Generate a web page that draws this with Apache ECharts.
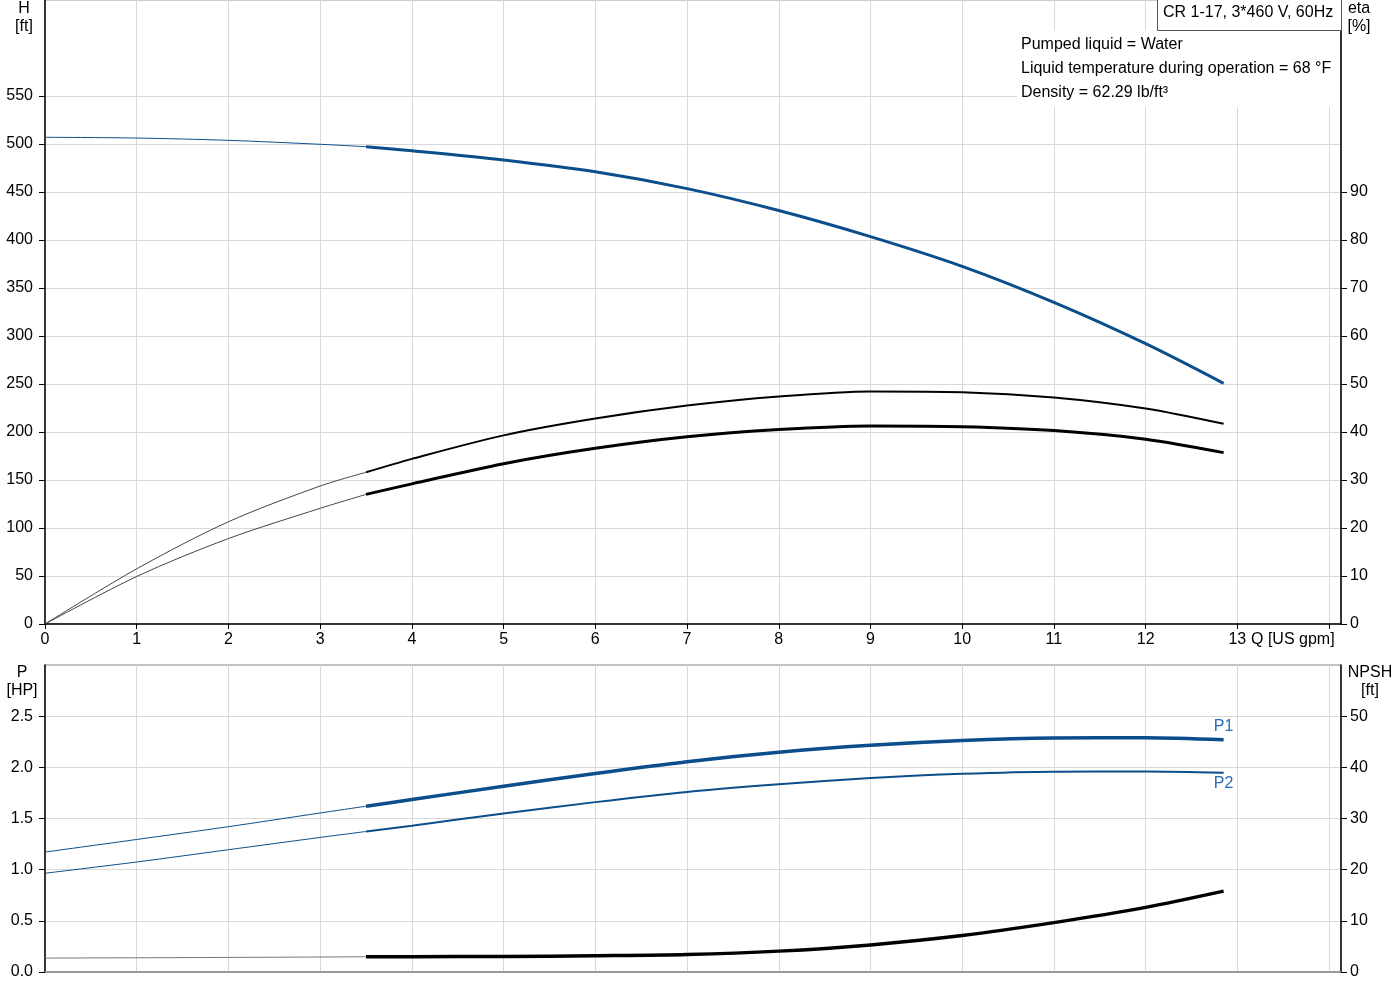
<!DOCTYPE html>
<html>
<head>
<meta charset="utf-8">
<script src="https://cdn.jsdelivr.net/npm/echarts@6.0.0/dist/echarts.min.js"></script>
<style>
  html, body { margin: 0; padding: 0; background: #fff; }
  #chart { width: 1400px; height: 1000px; }
</style>
</head>
<body>
<div id="chart"></div>
<script>
// flow points: thin part (outside operating range) and thick part
const qThin = [0, 1, 2, 3, 3.5];
const qThick = [3.5, 4, 5, 6, 7, 8, 9, 10, 11, 12, 12.85];

// head [ft]
const headThin = [507, 506.2, 503.8, 499.7, 497.2];
const headThick = [497.2, 493, 483.3, 471, 453.5, 430.7, 403.5, 372.5, 335, 292, 250.7];

// efficiency [%]
const etaUpperThin = [0, 11.5, 21.3, 28.75, 31.6];
const etaUpperThick = [31.6, 34.4, 39.3, 42.8, 45.5, 47.4, 48.45, 48.3, 47.2, 44.9, 41.7];
const etaLowerThin = [0, 9.9, 17.8, 24.1, 27.0];
const etaLowerThick = [27.0, 29.2, 33.4, 36.6, 39.0, 40.5, 41.25, 41.1, 40.3, 38.5, 35.7];

// power [HP]
const p1Thin = [1.172, 1.295, 1.42, 1.554, 1.62];
const p1Thick = [1.62, 1.685, 1.815, 1.94, 2.055, 2.147, 2.215, 2.262, 2.287, 2.29, 2.27];
const p2Thin = [0.965, 1.075, 1.195, 1.315, 1.373];
const p2Thick = [1.373, 1.43, 1.548, 1.66, 1.76, 1.835, 1.895, 1.937, 1.958, 1.959, 1.946];

// NPSH [ft]
const npshThin = [2.72, 2.78, 2.85, 2.93, 2.98];
const npshThick = [2.98, 2.99, 3.04, 3.17, 3.4, 4.08, 5.3, 7.12, 9.65, 12.63, 15.8];

// tick labels
const qTicks = [0, 1, 2, 3, 4, 5, 6, 7, 8, 9, 10, 11, 12, 13, 14];
const qLabels = [0, 1, 2, 3, 4, 5, 6, 7, 8, 9, 10, 11, 12, 13];
const hLabels = [0, 50, 100, 150, 200, 250, 300, 350, 400, 450, 500, 550];
const etaLabels = [0, 10, 20, 30, 40, 50, 60, 70, 80, 90];
const pLabels = [0, 0.5, 1, 1.5, 2, 2.5];
const npshLabels = [0, 10, 20, 30, 40, 50];

const FONT = 'Liberation Sans, Arial, sans-serif';
const FS = 16;
const BLUE = '#0b4e8b';
const GRID_LINE = '#d9d9d9';

const pairs = (qs, vs) => qs.map((q, i) => [q, vs[i]]);

function line(qs, vs, color, width, xi, yi, endLabel) {
  const data = pairs(qs, vs);
  const s = {
    type: 'line', xAxisIndex: xi, yAxisIndex: yi, data: data,
    smooth: 0.3, showSymbol: false, symbol: 'none',
    lineStyle: { color: color, width: width },
    z: 3
  };
  if (endLabel) {
    s.markPoint = {
      symbol: 'circle', symbolSize: 0, silent: true,
      data: [{
        coord: data[data.length - 1],
        label: {
          show: true, formatter: endLabel.text, position: endLabel.pos, distance: endLabel.dist,
          color: '#2a6db5', fontSize: FS, fontFamily: FONT
        }
      }]
    };
  }
  return s;
}

function valueAxis(opts) {
  return Object.assign({
    type: 'value',
    axisLine: { show: true, onZero: false, lineStyle: { color: '#000', width: 1.5 } },
    axisTick: { show: true, length: 6, lineStyle: { color: '#000' } },
    axisLabel: { color: '#000', fontSize: FS, fontFamily: FONT },
    splitLine: { show: false }
  }, opts);
}

const chart = echarts.init(document.getElementById('chart'));

chart.setOption({
  animation: false,
  backgroundColor: '#fff',
  grid: [
    { left: 45, right: 59, top: 0, height: 624, show: true, borderColor: '#999', borderWidth: 1 },
    { left: 45, right: 59, top: 665, height: 307, show: true, borderColor: '#888', borderWidth: 1 }
  ],
  xAxis: [
    valueAxis({
      gridIndex: 0, min: 0, max: 14.13, interval: 1,
      axisTick: { show: true, length: 5, customValues: qTicks, lineStyle: { color: '#000' } },
      axisLabel: { color: '#000', fontSize: FS, fontFamily: FONT, margin: 8, customValues: qLabels },
      splitLine: { show: true, lineStyle: { color: GRID_LINE, width: 1 } }
    }),
    valueAxis({
      gridIndex: 1, min: 0, max: 14.13, interval: 1,
      axisLine: { show: true, lineStyle: { color: '#888', width: 1.5 } },
      axisTick: { show: false },
      axisLabel: { show: false },
      splitLine: { show: true, lineStyle: { color: GRID_LINE, width: 1 } }
    })
  ],
  yAxis: [
    valueAxis({
      gridIndex: 0, min: 0, max: 650, interval: 50, position: 'left',
      axisTick: { show: true, length: 6, customValues: hLabels, lineStyle: { color: '#000' } },
      axisLabel: { color: '#000', fontSize: FS, fontFamily: FONT, margin: 12, customValues: hLabels },
      splitLine: { show: true, lineStyle: { color: GRID_LINE, width: 1 } }
    }),
    valueAxis({
      gridIndex: 0, min: 0, max: 130, interval: 10, position: 'right',
      axisTick: { show: true, length: 6, customValues: etaLabels, lineStyle: { color: '#000' } },
      axisLabel: { color: '#000', fontSize: FS, fontFamily: FONT, margin: 9, customValues: etaLabels }
    }),
    valueAxis({
      gridIndex: 1, min: 0, max: 3, interval: 0.5, position: 'left',
      axisTick: { show: true, length: 6, customValues: pLabels, lineStyle: { color: '#000' } },
      axisLabel: {
        color: '#000', fontSize: FS, fontFamily: FONT, margin: 12, customValues: pLabels,
        formatter: v => v.toFixed(1)
      },
      splitLine: { show: true, lineStyle: { color: GRID_LINE, width: 1 } }
    }),
    valueAxis({
      gridIndex: 1, min: 0, max: 60, interval: 10, position: 'right',
      axisTick: { show: true, length: 6, customValues: npshLabels, lineStyle: { color: '#000' } },
      axisLabel: { color: '#000', fontSize: FS, fontFamily: FONT, margin: 9, customValues: npshLabels }
    })
  ],
  series: [
    line(qThin, headThin, BLUE, 1, 0, 0),
    line(qThick, headThick, BLUE, 3, 0, 0),
    line(qThin, etaUpperThin, '#444', 1, 0, 1),
    line(qThick, etaUpperThick, '#000', 2, 0, 1),
    line(qThin, etaLowerThin, '#444', 1, 0, 1),
    line(qThick, etaLowerThick, '#000', 3, 0, 1),
    line(qThin, p1Thin, BLUE, 1, 1, 2),
    line(qThick, p1Thick, BLUE, 3.5, 1, 2, { text: 'P1', pos: 'top', dist: 5 }),
    line(qThin, p2Thin, BLUE, 1, 1, 2),
    line(qThick, p2Thick, BLUE, 2, 1, 2, { text: 'P2', pos: 'bottom', dist: 3 }),
    line(qThin, npshThin, '#777', 1, 1, 3),
    line(qThick, npshThick, '#000', 3.5, 1, 3)
  ],
  graphic: [
    { type: 'rect', z: 50, shape: { x: 1017, y: 31, width: 323, height: 76 }, style: { fill: '#fff' } },
    { type: 'rect', z: 51, shape: { x: 1157.5, y: -1, width: 184, height: 31.5 }, style: { fill: '#fff', stroke: '#555', lineWidth: 1 } },
    { type: 'text', z: 52, x: 1163, y: 13, style: { text: 'CR 1-17, 3*460 V, 60Hz', fontSize: FS, fontFamily: FONT, fill: '#000', verticalAlign: 'middle' } },
    { type: 'text', z: 52, x: 1021, y: 45, style: { text: 'Pumped liquid = Water', fontSize: FS, fontFamily: FONT, fill: '#000', verticalAlign: 'middle' } },
    { type: 'text', z: 52, x: 1021, y: 69, style: { text: 'Liquid temperature during operation = 68 °F', fontSize: FS, fontFamily: FONT, fill: '#000', verticalAlign: 'middle' } },
    { type: 'text', z: 52, x: 1021, y: 93, style: { text: 'Density = 62.29 lb/ft³', fontSize: FS, fontFamily: FONT, fill: '#000', verticalAlign: 'middle' } },
    { type: 'text', z: 52, x: 24, y: 0, style: { text: 'H\n[ft]', fontSize: FS, fontFamily: FONT, fill: '#000', align: 'center', lineHeight: 18 } },
    { type: 'text', z: 52, x: 1359, y: 0, style: { text: 'eta\n[%]', fontSize: FS, fontFamily: FONT, fill: '#000', align: 'center', lineHeight: 18 } },
    { type: 'text', z: 52, x: 22, y: 664, style: { text: 'P\n[HP]', fontSize: FS, fontFamily: FONT, fill: '#000', align: 'center', lineHeight: 18 } },
    { type: 'text', z: 52, x: 1370, y: 664, style: { text: 'NPSH\n[ft]', fontSize: FS, fontFamily: FONT, fill: '#000', align: 'center', lineHeight: 18 } },
    { type: 'text', z: 52, x: 1251, y: 640, style: { text: 'Q [US gpm]', fontSize: FS, fontFamily: FONT, fill: '#000', verticalAlign: 'middle' } }
  ]
});
</script>
</body>
</html>
